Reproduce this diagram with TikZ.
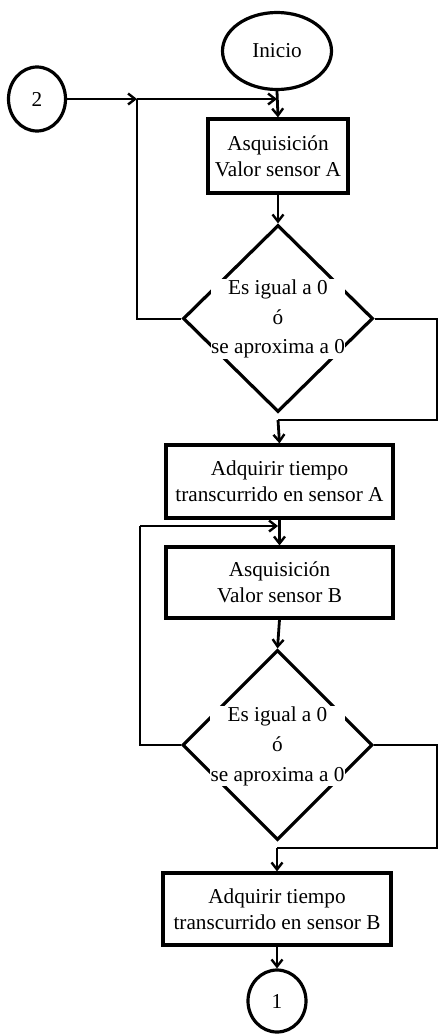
\documentclass[tikz,border=0pt]{standalone}
\usepackage{fontspec}
\setmainfont{Liberation Serif}
\usetikzlibrary{shapes.geometric,arrows.meta}
\tikzset{
  base/.style={draw=black, line width=3.2bp, inner sep=0pt, align=center,
    font=\fontsize{21.3}{26}\selectfont},
  procbox/.style={base, rectangle},
  oval/.style={base, ellipse},
  decision/.style={draw=black, line width=3.2bp, diamond, inner sep=0pt},
  dtext/.style={fill=white, inner sep=0.5bp, align=center,
    font=\fontsize{21.3}{30}\selectfont},
  conn/.style={line width=2.8bp, draw=black},
  thin conn/.style={line width=2bp, draw=black},
  arr/.style={-{Straight Barb[length=7bp,width=11bp,line width=2.4bp]}},
}
\begin{document}
\begin{tikzpicture}[x=1bp,y=-1bp]
\useasboundingbox[fill=white] (0,0) rectangle (438,1035);

% nodes
\node[oval, minimum width=109bp, minimum height=77bp] (inicio) at (277,51) {Inicio};
\node[oval, minimum width=57bp, minimum height=64bp] (c2) at (37,99) {2};
\node[procbox, minimum width=140bp, minimum height=74bp] (boxA) at (278,156) {Asquisición\\Valor sensor A};
\node[decision, minimum width=190bp, minimum height=187bp] (d1) at (278,318.5) {};
\node[dtext] (d1t) at (278,319) {Es igual a 0\\ó\\se aproxima a 0};
\node[procbox, minimum width=227bp, minimum height=73bp] (boxA2) at (279.5,481.5) {Adquirir tiempo\\transcurrido en sensor A};
\node[procbox, minimum width=227bp, minimum height=71bp] (boxB) at (279.5,582.5) {Asquisición\\Valor sensor B};
\node[decision, minimum width=190bp, minimum height=190bp] (d2) at (277.5,745) {};
\node[dtext] (d2t) at (277.5,746) {Es igual a 0\\ó\\se aproxima a 0};
\node[procbox, minimum width=228bp, minimum height=72bp] (boxB2) at (277,909) {Adquirir tiempo\\transcurrido en sensor B};
\node[oval, minimum width=58bp, minimum height=62bp] (c1) at (277,1001) {1};

% junction coordinates
\coordinate (j1) at (137,99);
\coordinate (j2) at (277,99);
\coordinate (l1) at (137,318.5);
\coordinate (r1a) at (437,318.5);
\coordinate (r1b) at (437,420);
\coordinate (r1c) at (278,420);
\coordinate (l2a) at (140,745);
\coordinate (l2b) at (140,526);
\coordinate (j3) at (278,526);
\coordinate (r2a) at (437,745);
\coordinate (r2b) at (437,848);
\coordinate (r2c) at (277,848);

% connectors
\draw[conn, arr] (c2.east) -- (j1);
\draw[conn, arr] (j1) -- (j2);
\draw[conn, arr] (inicio.south) -- (boxA.north);
\draw[conn, arr] (boxA.south) -- (d1.north);
\draw[thin conn] (d1.west) -- (l1) -- (j1);
\draw[thin conn] (d1.east) -- (r1a) -- (r1b) -- (r1c);
\draw[conn, arr] (r1c) -- (boxA2.north);
\draw[conn, arr] (boxA2.south) -- (boxB.north);
\draw[thin conn] (d2.west) -- (l2a) -- (l2b);
\draw[conn, arr] (l2b) -- (j3);
\draw[conn, arr] (boxB.south) -- (d2.north);
\draw[thin conn] (d2.east) -- (r2a) -- (r2b) -- (r2c);
\draw[conn, arr] (r2c) -- (boxB2.north);
\draw[conn, arr] (boxB2.south) -- (c1.north);
\end{tikzpicture}
\end{document}
